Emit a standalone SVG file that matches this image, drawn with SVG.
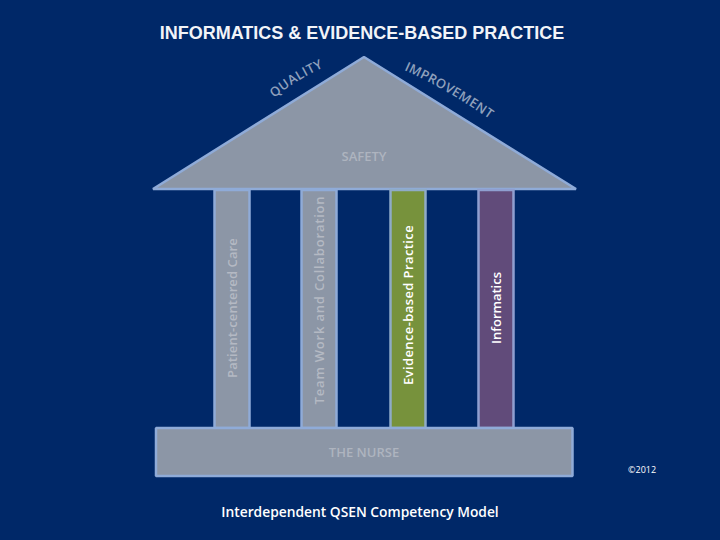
<svg xmlns="http://www.w3.org/2000/svg" width="720" height="540" viewBox="0 0 720 540">
<defs>
<path id="pq" d="M274,98 Q296,80 322,68"/>
<path id="pi" d="M404,70 Q448,90 491,120"/>
</defs>
<style>
.s{fill:#8c96a6;stroke:#8fabd8;stroke-width:2.500;stroke-linejoin:bevel}
.c{font-family:"Open Sans","Noto Sans",sans-serif}
.m{fill:#aeb4bf;font-weight:600}
.a{fill:#8fa0bc;font-size:13px;font-weight:600}
.v{font-size:13px;text-anchor:middle;font-weight:600}
</style>
<rect width="720" height="540" fill="#002868"/>
<text x="362" y="39" font-family="'Liberation Sans',Arial,sans-serif" font-weight="700" font-size="18" fill="#f2f4f8" text-anchor="middle">INFORMATICS &amp; EVIDENCE-BASED PRACTICE</text>
<g id="roof">
<polygon class="s" points="364,57 153,189 576,189"/>
<text class="c m" x="364" y="161" font-size="13" text-anchor="middle">SAFETY</text>
</g>
<text class="c a" letter-spacing="0.6"><textPath href="#pq">QUALITY</textPath></text>
<text class="c a" letter-spacing="0.4"><textPath href="#pi">IMPROVEMENT</textPath></text>
<g id="pillar-1">
<rect class="s" x="214.500" y="190" width="35" height="238"/>
<text class="c v" fill="#b4b9c3" letter-spacing="0.1" transform="translate(237 308) rotate(-90)">Patient-centered Care</text>
</g>
<g id="pillar-2">
<rect class="s" x="301.500" y="190" width="35" height="238"/>
<text class="c v" fill="#b4b9c3" letter-spacing="0.8" transform="translate(324 300) rotate(-90)">Team Work and Collaboration</text>
</g>
<g id="pillar-3">
<rect x="390.500" y="190" width="35" height="238" fill="#77923c" stroke="#8fabc8" stroke-width="2.500"/>
<text class="c v" fill="#fff" letter-spacing="0.4" transform="translate(413 305) rotate(-90)">Evidence-based Practice</text>
</g>
<g id="pillar-4">
<rect x="478.500" y="190" width="35" height="238" fill="#614b7a" stroke="#8f9fd0" stroke-width="2.500"/>
<text class="c v" fill="#fff" transform="translate(501 308) rotate(-90)">Informatics</text>
</g>
<g id="base">
<rect class="s" x="156" y="428" width="416.500" height="48"/>
<text class="c m" x="364" y="457" font-size="13" text-anchor="middle">THE NURSE</text>
</g>
<text class="c" x="360" y="517" font-size="13.800" font-weight="600" fill="#fff" text-anchor="middle">Interdependent QSEN Competency Model</text>
<text class="c" x="628" y="473" font-size="9" fill="#fff">©2012</text>
</svg>
